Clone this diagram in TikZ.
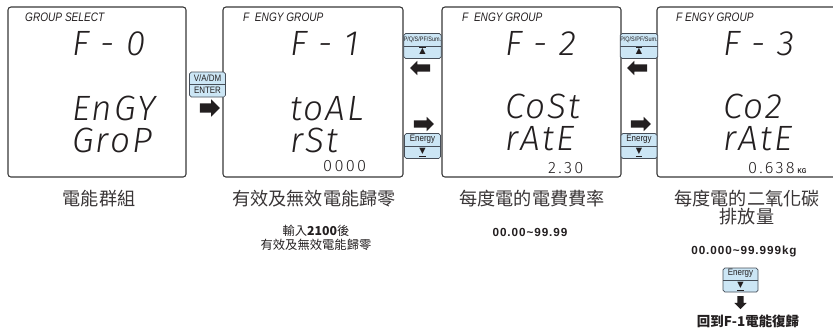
\documentclass[tikz,border=0pt]{standalone}
\usepackage{fontspec}
\usepackage{xcolor}
\definecolor{ink}{RGB}{35,31,32}
\definecolor{frame}{RGB}{55,55,55}
\definecolor{keyblue}{RGB}{204,230,245}
\definecolor{keyline}{RGB}{70,78,88}
\newfontfamily\cjk{Noto Sans CJK TC}
\newfontfamily\lcdfont{Fira Sans Light Italic}[LetterSpace=6]
\newfontfamily\lcddigit{Fira Sans Light}[LetterSpace=14]
\newfontfamily\lcdhead{Liberation Sans Italic}[FakeStretch=0.82]
\newfontfamily\keyfont{Liberation Sans}[FakeStretch=0.85]
\newfontfamily\numfont{Liberation Sans}[LetterSpace=8]
\newfontfamily\symfont{DejaVu Sans}
\usepackage{tikz}
\usetikzlibrary{positioning,shapes.arrows}
\def\px{0.03cm}
\tikzset{
  lcdpanel/.style={draw=frame, line width=0.9pt, rounded corners=2.5pt, inner sep=0},
  lcdhdr/.style={font=\lcdhead\fontsize{10.5}{10.5}\selectfont, text=ink, anchor=base west, inner sep=0},
  lcdbig/.style={font=\lcdfont\fontsize{30}{30}\selectfont, text=ink, anchor=base west, inner sep=0},
  lcdsmall/.style={font=\lcddigit\fontsize{14}{14}\selectfont, text=ink, anchor=base west, inner sep=0},
  keybox/.style={draw=keyline, fill=keyblue, line width=0.6pt, rounded corners=1.5pt,
    minimum width=36*\px, minimum height=25*\px, inner sep=0, align=center, text=ink,
    font=\keyfont\fontsize{8}{10.4}\selectfont,
    path picture={\draw[keyline, line width=0.6pt] (path picture bounding box.west) -- (path picture bounding box.east);}},
  blockarrow/.style={single arrow, fill=ink, draw=none, inner sep=0.105cm,
    single arrow head extend=0.105cm, minimum height=20*\px},
  caption/.style={font=\cjk\fontsize{15.5}{15.4}\selectfont, text=ink!90, align=center},
  note/.style={font=\cjk\fontsize{10.5}{12}\selectfont, text=ink, align=center},
  rangetext/.style={font=\numfont\bfseries\fontsize{10}{12}\selectfont, text=ink},
}
\begin{document}
\begin{tikzpicture}[x=\px, y=-\px]
  \useasboundingbox (0,0) rectangle (833,328);
  \clip (0,0) rectangle (833,328);
  %% LCD frames
  \node[lcdpanel, minimum width=178*\px, minimum height=170*\px] (p0) at (97,92) {};
  \node[lcdpanel, minimum width=180*\px, minimum height=170*\px] (p1) at (313,92) {};
  \node[lcdpanel, minimum width=179*\px, minimum height=170*\px] (p2) at (531.5,92) {};
  \node[lcdpanel, minimum width=188*\px, minimum height=170*\px] (p3) at (751,92) {};
  %% headers
  \node[lcdhdr] (h0) at (25,21) {GROUP SELECT};
  \node[lcdhdr] (h1) at (243,21) {F\ \ ENGY GROUP};
  \node[lcdhdr] (h2) at (462,21) {F\ \ ENGY GROUP};
  \node[lcdhdr] (h3) at (676,21) {F\ ENGY GROUP};
  %% F-0 group select
  \node[lcdbig] (a0) at (72,55) {F - 0};
  \node[lcdbig] (b0) at (72,120) {EnGY};
  \node[lcdbig] (c0) at (72,152) {GroP};
  %% F-1 total reset
  \node[lcdbig] (a1) at (290,55) {F - 1};
  \node[lcdbig] (b1) at (290,120) {toAL};
  \node[lcdbig] (c1) at (290,152) {rSt};
  \node[lcdsmall] (d1) at (323,171) {0000};
  %% F-2 cost rate
  \node[lcdbig] (a2) at (505,55) {F - 2};
  \node[lcdbig] (b2) at (505,118) {CoSt};
  \node[lcdbig] (c2) at (505,150) {rAtE};
  \node[lcdsmall] (d2) at (548,173) {2.30};
  %% F-3 CO2 rate
  \node[lcdbig] (a3) at (723,55) {F - 3};
  \node[lcdbig] (b3) at (723,118) {Co2};
  \node[lcdbig] (c3) at (723,150) {rAtE};
  \node[lcdsmall] (d3) at (748,173) {0.638};
  \node[font=\keyfont\bfseries\fontsize{6}{6}\selectfont, text=ink, anchor=base west, inner sep=0]
    (u3) at ([xshift=2pt]d3.base east) {KG};
  %% keys and arrows
  \node[keybox] (k0) at (207.5,84.5) {V/A/DM\\ENTER};
  \node[blockarrow, inner sep=0.13cm, single arrow head extend=0.12cm] (r0) at (207.5,108) {};
  \node[keybox, font=\keyfont\fontsize{5.5}{10.4}\selectfont] (up1) at (422.5,46)
    {P/Q/S/PF/Sum.\\$\overline{\hbox{\symfont\fontsize{7}{7}\selectfont ▲}}$};
  \node[blockarrow, shape border rotate=180] (l1) at (422,68) {};
  \node[blockarrow] (r1) at (422,124) {};
  \node[keybox] (dn1) at (422.5,146) {Energy\\\underline{\hbox{\symfont\fontsize{7}{7}\selectfont ▼}}};
  \node[keybox, font=\keyfont\fontsize{5.5}{10.4}\selectfont] (up2) at (639,46)
    {P/Q/S/PF/Sum.\\$\overline{\hbox{\symfont\fontsize{7}{7}\selectfont ▲}}$};
  \node[blockarrow, shape border rotate=180] (l2) at (639,68) {};
  \node[blockarrow] (r2) at (639,124) {};
  \node[keybox] (dn2) at (639,146) {Energy\\\underline{\hbox{\symfont\fontsize{7}{7}\selectfont ▼}}};
  %% captions
  \node[caption] (t0) at (99,199) {電能群組};
  \node[caption] (t1) at (314,199) {有效及無效電能歸零};
  \node[caption] (t2) at (532,199) {每度電的電費費率};
  \node[caption] (t3) at (747,208) {每度電的二氧化碳\\排放量};
  %% notes
  \node[note] (n1) at (316,238) {輸入{\bfseries 2100}後\\有效及無效電能歸零};
  \node[rangetext] (n2) at (530,232) {00.00\textasciitilde 99.99};
  \node[rangetext] (n3) at (744,251) {00.000\textasciitilde 99.999kg};
  \node[keybox, minimum width=35*\px, minimum height=24*\px] (dn3) at (740.5,280)
    {Energy\\\underline{\hbox{\symfont\fontsize{7}{7}\selectfont ▼}}};
  \node[blockarrow, shape border rotate=270, inner sep=0.09cm, single arrow head extend=0.09cm,
    minimum height=13*\px] (d4) at (740.5,301) {};
  \node[note, font=\cjk\bfseries\fontsize{11.5}{12}\selectfont] (n4) at (748,321) {回到F-1電能復歸};
\end{tikzpicture}
\end{document}
